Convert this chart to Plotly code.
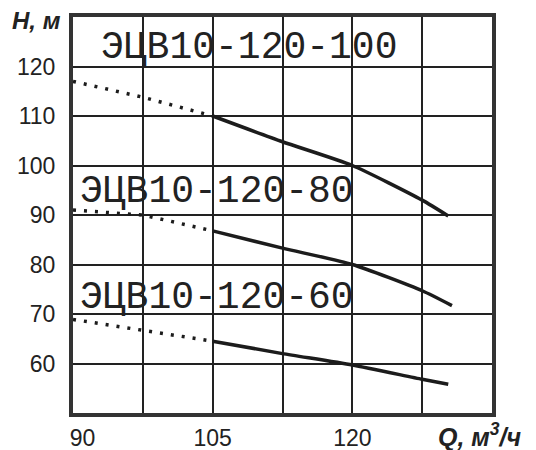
import plotly.graph_objects as go

# ---- data ----
q_dotted = [90, 97.5, 105]
h100_dotted = [117.0, 113.8, 110.0]
h80_dotted = [91.0, 90.0, 86.8]
h60_dotted = [68.9, 66.7, 64.5]

q100_solid = [105, 112.5, 120, 127.5, 130.3]
h100_solid = [110.0, 104.8, 100.0, 93.0, 89.8]
q80_solid = [105, 112.5, 120, 127.5, 130.7]
h80_solid = [86.8, 83.3, 80.0, 74.7, 71.7]
q60_solid = [105, 112.5, 120, 127.5, 130.3]
h60_solid = [64.5, 62.0, 59.7, 56.8, 55.8]

labels = ["ЭЦВ10-120-100", "ЭЦВ10-120-80", "ЭЦВ10-120-60"]
label_q = [108.9, 105.5, 105.5]
label_h = [123.8, 94.8, 73.4]

x_grid = [90, 97.5, 105, 112.5, 120, 127.5, 135]
x_text = ["\u00a0\u00a0\u00a090", "", "105", "", "120", "", ""]
y_grid = [60, 70, 80, 90, 100, 110, 120]
y_text = ["60", "70", "80", "90", "100", "110", "120"]

LINE = "#1c1c1c"

fig = go.Figure()
for hd in [h100_dotted, h80_dotted, h60_dotted]:
    fig.add_trace(go.Scatter(x=q_dotted, y=hd, mode="lines",
                             line=dict(color=LINE, width=3.5, dash="3px,8px"),
                             showlegend=False, hoverinfo="skip"))
for qs, hs in [(q100_solid, h100_solid), (q80_solid, h80_solid), (q60_solid, h60_solid)]:
    fig.add_trace(go.Scatter(x=qs, y=hs, mode="lines",
                             line=dict(color=LINE, width=3.5, shape="spline", smoothing=0.6),
                             showlegend=False, hoverinfo="skip"))

for t, xq, yh in zip(labels, label_q, label_h):
    fig.add_annotation(x=xq, y=yh, xref="x", yref="y", text=t, showarrow=False,
                       font=dict(family="Liberation Mono", size=38, color="#222"))

fig.add_annotation(x=-0.086, y=0.99, xref="paper", yref="paper",
                   xanchor="center", yanchor="middle",
                   text="<b><i>H, м</i></b>", showarrow=False,
                   font=dict(family="Liberation Sans", size=24, color="#222"))
fig.add_annotation(x=0.972, y=-0.056, xref="paper", yref="paper",
                   xanchor="center", yanchor="middle",
                   text="<b><i>Q, м<sup>3</sup>/ч</i></b>", showarrow=False,
                   font=dict(family="Liberation Sans", size=25, color="#222"))

fig.update_xaxes(range=[90, 135], tickmode="array", tickvals=x_grid, ticktext=x_text,
                 showgrid=True, gridcolor="#222", gridwidth=2,
                 showline=True, linecolor="#333", linewidth=4, mirror=True,
                 zeroline=False, ticks="", ticklabelstandoff=1, automargin=False,
                 tickfont=dict(family="Liberation Sans", size=23, color="#222"))
fig.update_yaxes(range=[50, 130], tickmode="array", tickvals=y_grid, ticktext=y_text,
                 showgrid=True, gridcolor="#222", gridwidth=2,
                 showline=True, linecolor="#333", linewidth=4, mirror=True,
                 zeroline=False, ticks="", ticklabelstandoff=9, automargin=False,
                 tickfont=dict(family="Liberation Sans", size=23, color="#222"))

# page body has an 8px margin, so the figure is 8px smaller and margins shifted
fig.update_layout(width=528, height=442, autosize=False,
                  margin=dict(l=65, r=44, t=9, b=37, autoexpand=False),
                  plot_bgcolor="white", paper_bgcolor="white")

fig.write_html("out.html")
